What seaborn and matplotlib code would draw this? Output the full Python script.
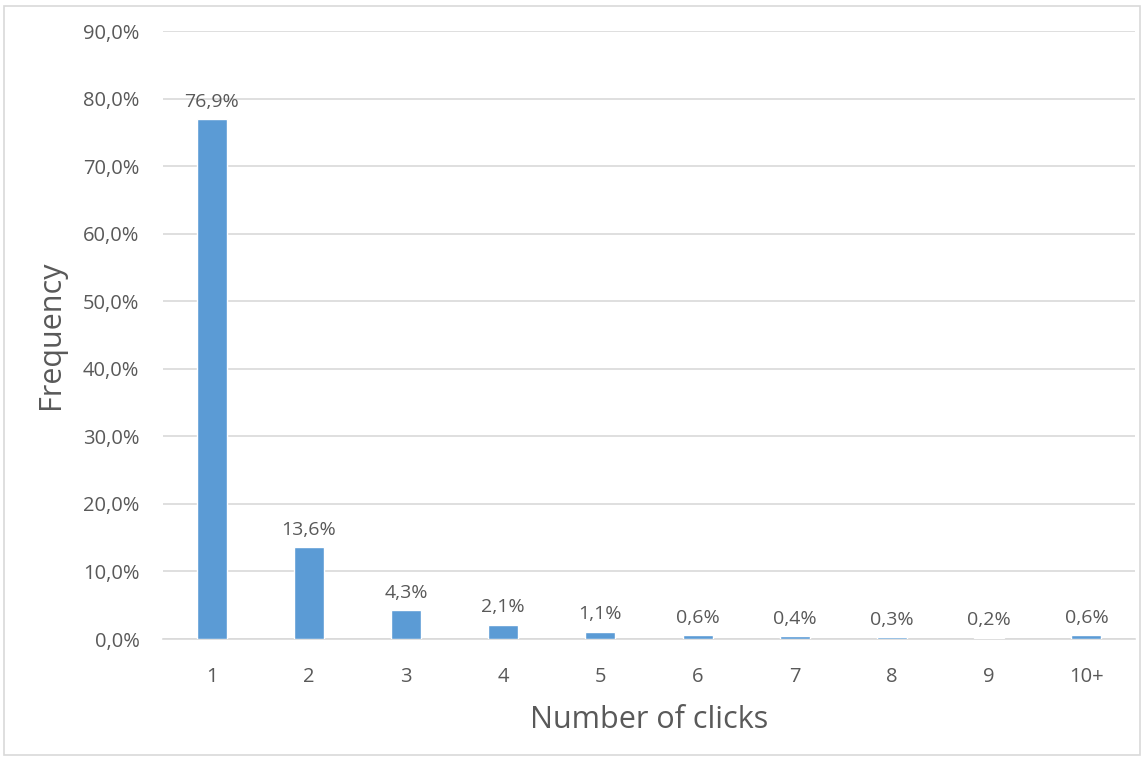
import matplotlib
matplotlib.use("Agg")
import matplotlib.pyplot as plt
from matplotlib.patches import Rectangle
from matplotlib.ticker import FuncFormatter, MultipleLocator
import seaborn as sns
import pandas as pd

#%% data
clicks = ["1", "2", "3", "4", "5", "6", "7", "8", "9", "10+"]
freq_pct = [76.9, 13.6, 4.3, 2.1, 1.1, 0.6, 0.4, 0.3, 0.2, 0.6]

df = pd.DataFrame({"clicks": clicks, "freq": freq_pct})

#%% plot
sns.set_style("white")
plt.rcParams["font.family"] = ["Open Sans", "DejaVu Sans"]
txt = "#595959"

fig = plt.figure(figsize=(11.44, 7.57), dpi=100)
ax = fig.add_axes([163 / 1144, 1 - 639 / 757, (1135 - 163) / 1144, (639 - 31) / 757])

sns.barplot(data=df, x="clicks", y="freq", color="#5B9BD5", saturation=1,
            width=0.31, ax=ax, zorder=3)

ax.set_ylim(0, 90)
ax.yaxis.set_major_locator(MultipleLocator(10))
ax.yaxis.set_major_formatter(FuncFormatter(lambda v, p: f"{v:.1f}%".replace(".", ",")))
ax.grid(axis="y", color="#D9D9D9", linewidth=1.2, zorder=0)
for s in ["top", "right", "left"]:
    ax.spines[s].set_visible(False)
ax.spines["bottom"].set_color("#D9D9D9")
ax.spines["bottom"].set_linewidth(1.2)
ax.tick_params(axis="both", length=0, labelsize=14.5, labelcolor=txt)
ax.tick_params(axis="y", pad=17)
ax.tick_params(axis="x", pad=20)

labels = [f"{v:.1f}%".replace(".", ",") for v in freq_pct]
ax.bar_label(ax.containers[0], labels=labels, padding=6, fontsize=14, color=txt)

ax.set_xlabel("Number of clicks", fontsize=22, color=txt, labelpad=13)
ax.set_ylabel("Frequency", fontsize=22, color=txt, labelpad=12)

# light frame around the chart
fig.patches.append(Rectangle((4 / 1144, 2 / 757), 1136 / 1144, 749 / 757,
                             transform=fig.transFigure, fill=False,
                             edgecolor="#D9D9D9", linewidth=1.2))

fig.savefig("out.png", dpi=100)
